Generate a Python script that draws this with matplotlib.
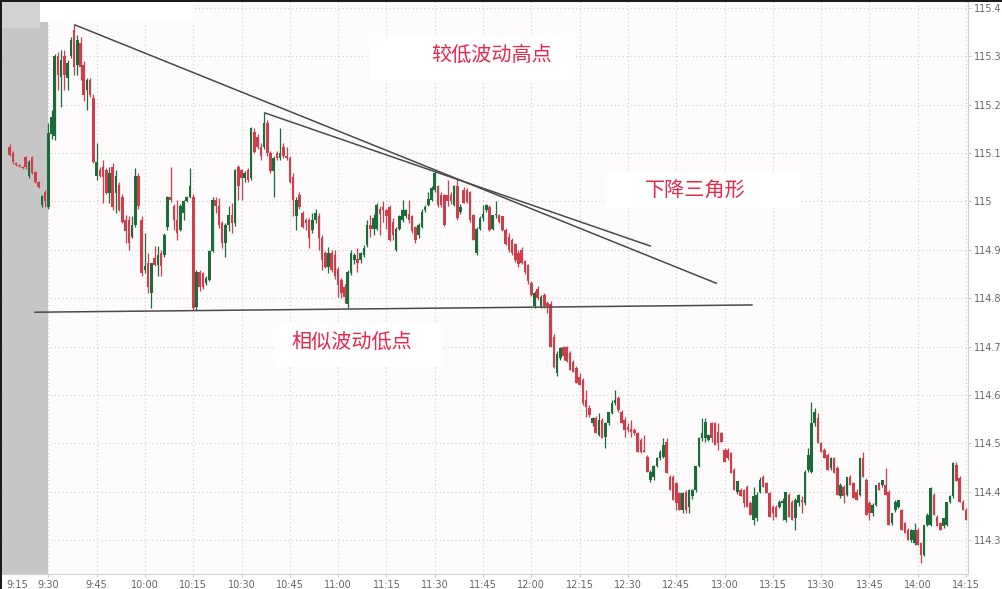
import matplotlib.pyplot as plt
from matplotlib.patches import Rectangle
from matplotlib.transforms import ScaledTranslation

plt.rcParams['font.family'] = ['Noto Sans CJK SC', 'DejaVu Sans']

# 1-minute candles, first one at 9:18 (minutes counted from 9:15)
START_MIN = 3

opens = [
    # 9:18 - 9:29
    115.113, 115.100, 115.080, 115.076, 115.072, 115.092, 115.052, 115.092, 115.061, 115.040, 114.993, 115.020,
    # 9:30 - 9:54
    114.989, 115.140, 115.135, 115.300, 115.258, 115.300, 115.255, 115.300, 115.355, 115.282, 115.327, 115.282,
    115.231, 115.251, 115.213, 115.052, 115.065, 115.072, 115.065, 115.017, 115.072, 115.017, 115.034, 115.010, 114.962,
    # 9:55 - 10:33
    114.962, 114.927, 114.952, 115.052, 114.962, 114.859, 114.872, 114.810, 114.883, 114.869, 114.893, 114.890,
    114.948, 115.010, 114.990, 114.962, 114.941, 114.976, 115.000, 115.010, 115.010, 114.781, 114.855, 114.852,
    114.831, 114.838, 114.897, 115.003, 114.990, 114.955, 114.914, 114.952, 114.972, 114.955, 115.072, 115.065,
    115.048, 115.065, 115.048,
    # 10:34 - 10:57
    115.144, 115.134, 115.113, 115.113, 115.162, 115.100, 115.062, 115.100, 115.089, 115.113, 115.093, 115.089,
    115.051, 114.969, 115.014, 114.976, 114.962, 114.962, 114.941, 114.962, 114.969, 114.924, 114.893, 114.865,
    # 10:58 - 12:18
    114.893, 114.889, 114.860, 114.838, 114.824, 114.789, 114.852, 114.879,
    114.882, 114.879, 114.889, 114.910, 114.951, 114.944, 114.944, 114.985, 114.989, 114.982,
    114.989, 114.958, 114.900, 114.944, 114.962, 114.969, 114.975, 114.969, 114.948, 114.931,
    114.948, 114.982, 114.993, 115.003, 115.024, 115.031, 115.013, 115.013, 115.013, 115.013,
    114.993, 115.031, 114.979, 115.024, 115.024, 115.020, 114.972, 114.893, 114.944, 114.965,
    114.982, 114.989, 114.944, 114.972, 114.972, 114.969, 114.941, 114.927, 114.920, 114.913,
    114.893, 114.900, 114.876, 114.868, 114.831, 114.783, 114.820, 114.783, 114.806, 114.790,
    114.789, 114.720, 114.645, 114.676, 114.700, 114.700, 114.686, 114.669, 114.655, 114.638,
    114.631, 114.590, 114.572,
    # 12:19 - 14:15
    114.541, 114.552, 114.517, 114.548, 114.514, 114.541, 114.562, 114.583,
    114.593, 114.565, 114.548, 114.534, 114.530, 114.528, 114.521, 114.507, 114.486, 114.472,
    114.424, 114.431, 114.452, 114.469, 114.472, 114.503, 114.431, 114.431, 114.417, 114.397,
    114.362, 114.400, 114.369, 114.390, 114.403, 114.452, 114.510, 114.510, 114.507, 114.541,
    114.541, 114.524, 114.521, 114.486, 114.486, 114.479, 114.445, 114.400, 114.403, 114.403,
    114.410, 114.376, 114.341, 114.345, 114.400, 114.431, 114.417, 114.397, 114.369, 114.369,
    114.369, 114.376, 114.341, 114.393, 114.379, 114.345, 114.376, 114.383, 114.376, 114.445,
    114.441, 114.541, 114.552, 114.500, 114.486, 114.476, 114.448, 114.469, 114.448, 114.390,
    114.410, 114.393, 114.431, 114.417, 114.400, 114.393, 114.469, 114.424, 114.376, 114.355,
    114.372, 114.417, 114.414, 114.414, 114.400, 114.335, 114.362, 114.369, 114.362, 114.335,
    114.321, 114.300, 114.293, 114.321, 114.293, 114.269, 114.331, 114.331, 114.393, 114.348,
    114.335, 114.328, 114.331, 114.379, 114.390, 114.455, 114.428, 114.379, 114.362,
]

highs = [
    115.118, 115.104, 115.082, 115.078, 115.074, 115.095, 115.085, 115.095, 115.064, 115.042, 115.014, 115.024,
    115.162, 115.190, 115.305, 115.310, 115.313, 115.313, 115.293, 115.341, 115.368, 115.345, 115.341, 115.290,
    115.255, 115.255, 115.222, 115.120, 115.072, 115.085, 115.070, 115.072, 115.080, 115.065, 115.040, 115.015, 114.972,
    114.970, 114.969, 115.069, 115.058, 114.970, 114.934, 114.893, 114.872, 114.907, 114.907, 114.900, 114.934,
    115.012, 115.072, 114.995, 115.003, 114.995, 115.003, 115.012, 115.069, 115.015, 114.858, 114.858, 114.855,
    114.845, 114.900, 115.010, 115.010, 115.007, 114.960, 114.955, 114.990, 114.996, 115.068, 115.075, 115.068,
    115.062, 115.070, 115.155,
    115.151, 115.140, 115.120, 115.184, 115.168, 115.105, 115.095, 115.105, 115.151, 115.120, 115.113, 115.095,
    115.058, 115.010, 115.020, 114.980, 114.965, 114.966, 114.976, 114.985, 114.976, 114.930, 114.897, 114.905,
    114.900, 114.900, 114.865, 114.842, 114.830, 114.858, 114.900, 114.893,
    114.903, 114.895, 114.910, 114.962, 114.972, 114.975, 114.996, 114.990, 115.000, 114.985,
    114.993, 114.965, 114.948, 114.972, 115.003, 114.985, 115.003, 114.972, 114.950, 114.955,
    114.985, 114.993, 115.020, 115.031, 115.065, 115.035, 115.020, 115.016, 115.044, 115.020,
    115.035, 115.048, 114.995, 115.030, 115.028, 115.022, 114.975, 114.948, 114.970, 114.993,
    114.995, 114.993, 114.972, 115.000, 114.975, 114.970, 114.945, 114.935, 114.925, 114.915,
    114.900, 114.905, 114.878, 114.870, 114.835, 114.815, 114.825, 114.806, 114.810, 114.795,
    114.795, 114.725, 114.690, 114.700, 114.702, 114.702, 114.690, 114.672, 114.660, 114.645,
    114.635, 114.610, 114.580,
    114.555, 114.556, 114.562, 114.552, 114.545, 114.565, 114.590, 114.610,
    114.598, 114.568, 114.555, 114.541, 114.548, 114.531, 114.524, 114.510, 114.517, 114.476,
    114.445, 114.455, 114.472, 114.486, 114.510, 114.510, 114.434, 114.434, 114.420, 114.400,
    114.400, 114.403, 114.405, 114.405, 114.452, 114.514, 114.552, 114.552, 114.520, 114.545,
    114.545, 114.541, 114.524, 114.490, 114.490, 114.483, 114.448, 114.421, 114.407, 114.405,
    114.414, 114.380, 114.410, 114.400, 114.430, 114.435, 114.420, 114.400, 114.372, 114.372,
    114.382, 114.386, 114.400, 114.397, 114.382, 114.386, 114.395, 114.390, 114.445, 114.490,
    114.586, 114.572, 114.562, 114.503, 114.490, 114.480, 114.472, 114.472, 114.452, 114.417,
    114.414, 114.431, 114.434, 114.420, 114.405, 114.469, 114.481, 114.428, 114.380, 114.376,
    114.414, 114.420, 114.425, 114.448, 114.403, 114.355, 114.382, 114.383, 114.365, 114.338,
    114.324, 114.322, 114.335, 114.324, 114.296, 114.331, 114.355, 114.410, 114.397, 114.352,
    114.338, 114.345, 114.379, 114.393, 114.462, 114.462, 114.432, 114.383, 114.366,
]

lows = [
    115.094, 115.078, 115.074, 115.072, 115.068, 115.068, 115.048, 115.056, 115.038, 115.028, 114.988, 114.988,
    114.985, 115.130, 115.128, 115.231, 115.196, 115.231, 115.231, 115.296, 115.262, 115.262, 115.251, 115.207,
    115.190, 115.215, 115.080, 115.045, 115.050, 114.996, 115.015, 114.996, 114.983, 114.976, 114.980, 114.955, 114.914,
    114.900, 114.924, 114.948, 114.985, 114.845, 114.852, 114.810, 114.780, 114.866, 114.845, 114.845, 114.885,
    114.941, 114.998, 114.941, 114.920, 114.938, 114.962, 114.998, 115.008, 114.776, 114.776, 114.814, 114.820,
    114.828, 114.835, 114.895, 114.976, 114.945, 114.903, 114.886, 114.938, 114.935, 114.950, 115.003, 115.003,
    115.040, 115.040, 115.045,
    115.100, 115.108, 115.085, 115.108, 115.095, 115.058, 115.010, 115.085, 115.085, 115.089, 115.085, 115.038,
    114.969, 114.941, 114.985, 114.945, 114.941, 114.903, 114.934, 114.955, 114.900, 114.858, 114.862, 114.852,
    114.855, 114.840, 114.803, 114.800, 114.790, 114.779, 114.848, 114.870,
    114.855, 114.872, 114.885, 114.905, 114.927, 114.930, 114.940, 114.931, 114.958, 114.944,
    114.918, 114.920, 114.897, 114.940, 114.958, 114.965, 114.955, 114.935, 114.915, 114.925,
    114.945, 114.978, 114.990, 115.000, 115.020, 114.989, 114.989, 114.950, 114.990, 114.995,
    114.990, 114.962, 114.975, 114.996, 114.996, 114.958, 114.920, 114.890, 114.940, 114.960,
    114.978, 114.938, 114.940, 114.965, 114.955, 114.938, 114.910, 114.895, 114.890, 114.875,
    114.865, 114.870, 114.850, 114.830, 114.805, 114.780, 114.797, 114.780, 114.780, 114.770,
    114.700, 114.655, 114.640, 114.672, 114.672, 114.668, 114.652, 114.648, 114.624, 114.620,
    114.580, 114.555, 114.555,
    114.535, 114.521, 114.515, 114.510, 114.490, 114.538, 114.560, 114.580,
    114.565, 114.541, 114.514, 114.524, 114.514, 114.518, 114.483, 114.479, 114.481, 114.441,
    114.420, 114.424, 114.450, 114.465, 114.470, 114.438, 114.403, 114.383, 114.362, 114.362,
    114.355, 114.355, 114.355, 114.385, 114.400, 114.450, 114.505, 114.503, 114.505, 114.503,
    114.497, 114.486, 114.503, 114.462, 114.465, 114.438, 114.403, 114.395, 114.390, 114.369,
    114.369, 114.352, 114.331, 114.340, 114.397, 114.410, 114.397, 114.348, 114.341, 114.348,
    114.367, 114.341, 114.338, 114.348, 114.341, 114.320, 114.370, 114.355, 114.372, 114.440,
    114.438, 114.535, 114.500, 114.483, 114.469, 114.445, 114.445, 114.438, 114.393, 114.386,
    114.376, 114.390, 114.414, 114.386, 114.383, 114.390, 114.431, 114.352, 114.341, 114.350,
    114.370, 114.403, 114.410, 114.393, 114.331, 114.330, 114.358, 114.366, 114.321, 114.314,
    114.300, 114.295, 114.290, 114.290, 114.252, 114.266, 114.328, 114.328, 114.352, 114.328,
    114.321, 114.325, 114.328, 114.376, 114.386, 114.421, 114.379, 114.362, 114.341,
]

closes = [
    115.096, 115.082, 115.076, 115.074, 115.070, 115.071, 115.082, 115.059, 115.040, 115.030, 115.011, 115.000,
    115.141, 115.175, 115.300, 115.262, 115.293, 115.262, 115.286, 115.334, 115.279, 115.334, 115.279, 115.220,
    115.251, 115.220, 115.082, 115.082, 115.052, 115.050, 115.017, 115.058, 114.989, 115.052, 114.983, 114.958, 114.938,
    114.914, 114.952, 115.052, 114.990, 114.852, 114.866, 114.824, 114.872, 114.869, 114.890, 114.866, 114.931,
    115.010, 115.003, 114.962, 114.935, 114.990, 115.000, 115.010, 115.031, 114.779, 114.855, 114.824, 114.824,
    114.841, 114.897, 115.003, 114.990, 114.952, 114.914, 114.952, 114.972, 114.955, 115.065, 115.031, 115.048,
    115.058, 115.045, 115.151,
    115.103, 115.113, 115.093, 115.162, 115.100, 115.062, 115.089, 115.089, 115.100, 115.093, 115.089, 115.041,
    115.003, 115.003, 114.989, 114.948, 114.955, 114.924, 114.962, 114.976, 114.924, 114.879, 114.865, 114.893,
    114.858, 114.845, 114.828, 114.810, 114.803, 114.855, 114.893, 114.889,
    114.872, 114.893, 114.903, 114.951, 114.944, 114.965, 114.993, 114.975, 114.982, 114.970,
    114.920, 114.931, 114.944, 114.969, 114.982, 114.982, 114.962, 114.938, 114.920, 114.951,
    114.979, 114.989, 115.006, 115.027, 115.058, 114.993, 114.993, 114.951, 115.000, 115.000,
    115.031, 114.965, 114.989, 114.996, 114.998, 114.962, 114.920, 114.944, 114.965, 114.975,
    114.993, 114.941, 114.972, 114.975, 114.958, 114.941, 114.913, 114.900, 114.893, 114.879,
    114.870, 114.872, 114.855, 114.835, 114.807, 114.810, 114.800, 114.803, 114.783, 114.783,
    114.700, 114.658, 114.685, 114.697, 114.680, 114.670, 114.652, 114.648, 114.624, 114.621,
    114.583, 114.575, 114.558,
    114.552, 114.521, 114.548, 114.510, 114.541, 114.565, 114.583, 114.590,
    114.569, 114.541, 114.528, 114.528, 114.524, 114.521, 114.483, 114.483, 114.483, 114.441,
    114.441, 114.452, 114.469, 114.483, 114.497, 114.438, 114.403, 114.383, 114.376, 114.362,
    114.397, 114.362, 114.403, 114.403, 114.452, 114.510, 114.521, 114.545, 114.517, 114.510,
    114.497, 114.500, 114.503, 114.462, 114.469, 114.438, 114.403, 114.421, 114.390, 114.376,
    114.369, 114.352, 114.390, 114.393, 114.424, 114.410, 114.397, 114.348, 114.355, 114.348,
    114.379, 114.380, 114.400, 114.348, 114.341, 114.383, 114.393, 114.378, 114.441, 114.476,
    114.541, 114.565, 114.500, 114.483, 114.469, 114.445, 114.469, 114.438, 114.393, 114.414,
    114.390, 114.431, 114.414, 114.386, 114.383, 114.469, 114.431, 114.352, 114.355, 114.372,
    114.414, 114.403, 114.424, 114.393, 114.331, 114.355, 114.379, 114.383, 114.321, 114.314,
    114.300, 114.321, 114.321, 114.290, 114.269, 114.331, 114.352, 114.407, 114.352, 114.328,
    114.321, 114.345, 114.379, 114.390, 114.459, 114.421, 114.379, 114.362, 114.341,
]

assert len(opens) == len(highs) == len(lows) == len(closes), (len(opens), len(highs), len(lows), len(closes))

time_ticks = list(range(0, 301, 15))
time_labels = ['9:15', '9:30', '9:45', '10:00', '10:15', '10:30', '10:45', '11:00', '11:15', '11:30', '11:45',
               '12:00', '12:15', '12:30', '12:45', '13:00', '13:15', '13:30', '13:45', '14:00', '14:15']
price_ticks = [114.3, 114.4, 114.5, 114.6, 114.7, 114.8, 114.9, 115.0, 115.1, 115.2, 115.3, 115.4]

# trend lines drawn on the chart (minute, price)
upper_long_t = [23.3, 222.4]
upper_long_p = [115.365, 114.831]
upper_short_t = [82.3, 201.9]
upper_short_p = [115.183, 114.908]
support_t = [10.9, 233.5]
support_p = [114.771, 114.786]

notes = ['较低波动高点', '下降三角形', '相似波动低点']
note_t = [152.8, 215.8, 109.3]
note_p = [115.303, 115.021, 114.709]
# white boxes behind the notes: (t0, t1, p0, p1)
note_boxes = [(114.9, 178.6, 115.247, 115.344),
              (187.9, 248.4, 114.986, 115.059),
              (85.4, 137.6, 114.658, 114.749)]

RED = '#d03e4b'
GREEN = '#1c6b3b'

W, H = 1002, 589
fig = plt.figure(figsize=(W / 100, H / 100), dpi=100)
fig.patch.set_facecolor('white')
ax = fig.add_axes([0, 15 / H, 968 / W, 574 / H])
ax.set_xlim(0, 300.6)
ax.set_ylim(114.2297, 115.4166)
ax.set_facecolor('#fdfbfc')

# pre-market shading
ax.axvspan(0, 15, color='#c6c6c6', lw=0, zorder=0)
ax.grid(True, linestyle=(0, (1, 2.5)), color='#cfcfcf', linewidth=0.8, zorder=0.5)
ax.set_axisbelow(True)

xs = [START_MIN + i for i in range(len(opens))]
colors = [GREEN if c >= o else RED for o, c in zip(opens, closes)]
ax.vlines(xs, lows, highs, colors=colors, linewidth=0.9, zorder=2)
bottoms = [min(o, c) for o, c in zip(opens, closes)]
heights = [max(abs(c - o), 0.002) for o, c in zip(opens, closes)]
ax.bar(xs, heights, bottom=bottoms, width=0.8, color=colors, linewidth=0, zorder=3)

for t, p in [(upper_long_t, upper_long_p), (upper_short_t, upper_short_p), (support_t, support_p)]:
    ax.plot(t, p, color='#4a4a4a', linewidth=1.1, zorder=4)

for (t0, t1, p0, p1), s, t, p in zip(note_boxes, notes, note_t, note_p):
    ax.add_patch(Rectangle((t0, p0), t1 - t0, p1 - p0, facecolor='white', edgecolor='none', zorder=5))
    ax.text(t, p, s, color='#e8274b', fontsize=14.5, ha='center', va='center', zorder=6)

ax.set_xticks(time_ticks)
ax.set_xticklabels(time_labels)
ax.yaxis.tick_right()
ax.set_yticks(price_ticks)
ax.set_yticklabels([f'{v:g}' for v in price_ticks])
ax.tick_params(colors='#c8c8c8', labelcolor='#666666', labelsize=7, length=2.5, width=0.8, pad=1.5)
for lbl in ax.get_xticklabels() + ax.get_yticklabels():
    lbl.set_family('DejaVu Sans')
first = ax.get_xticklabels()[0]
first.set_ha('left')
first.set_transform(first.get_transform() + ScaledTranslation(6 / 100, 0, fig.dpi_scale_trans))

for side in ['top', 'left']:
    ax.spines[side].set_visible(False)
for side in ['right', 'bottom']:
    ax.spines[side].set_color('#d0d0d0')
    ax.spines[side].set_linewidth(0.8)

# screenshot leftovers: dark frame edge and cover patches at the top left
fig.add_artist(Rectangle((0, 1 - 28 / H), 40 / W, 28 / H, transform=fig.transFigure,
                         facecolor='#d2d2d2', edgecolor='none', zorder=10))
fig.add_artist(Rectangle((40 / W, 1 - 22 / H), 155 / W, 22 / H, transform=fig.transFigure,
                         facecolor='white', edgecolor='none', zorder=10))
fig.add_artist(Rectangle((0, 0), 2 / W, 1, transform=fig.transFigure,
                         facecolor='#1a1a1a', edgecolor='none', zorder=11))
fig.add_artist(Rectangle((0, 1 - 2 / H), 1, 2 / H, transform=fig.transFigure,
                         facecolor='#1a1a1a', edgecolor='none', zorder=11))

fig.savefig('out.png', dpi=100)
